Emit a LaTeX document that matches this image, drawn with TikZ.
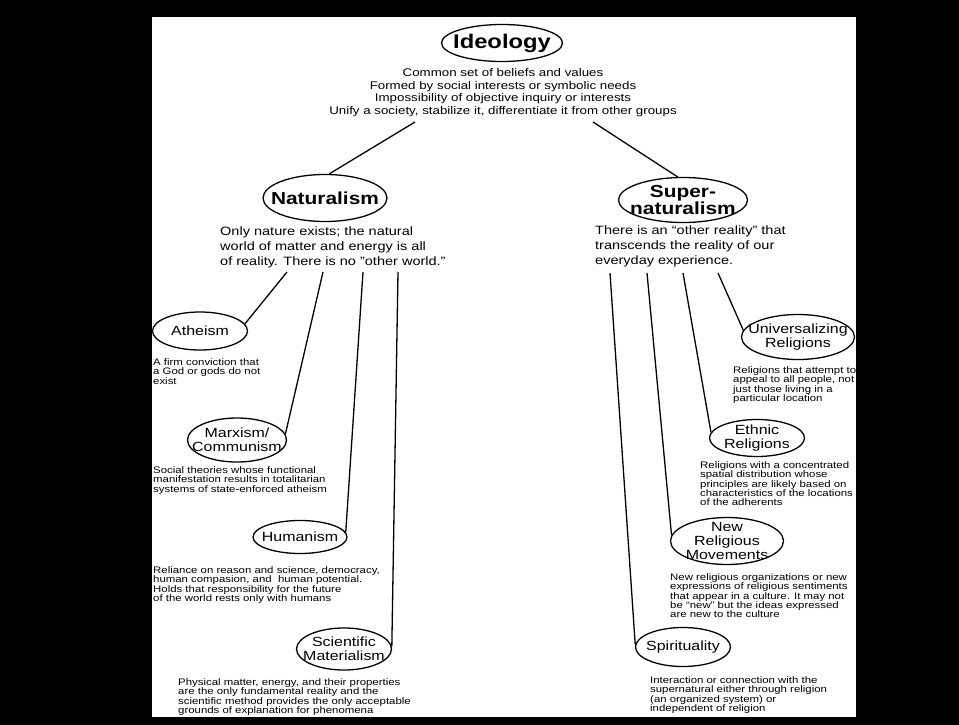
\documentclass[tikz,border=0pt]{standalone}
\usepackage{fontspec}
\setmainfont{Liberation Sans}[FakeStretch=1.2]
\usetikzlibrary{shapes.geometric}
\begin{document}
\begin{tikzpicture}[x=1pt,y=-1pt,
  oval/.style={draw,line width=1.3pt,ellipse,inner sep=0pt},
  link/.style={line width=1.3pt},
  body/.style={align=left,anchor=north west,inner sep=0pt,font=\fontsize{12.1}{15}\selectfont},
  desc/.style={align=left,anchor=north west,inner sep=0pt,font=\fontsize{9.5}{9.3}\selectfont},
  natl/.style={align=center,inner sep=0pt,font=\fontsize{17.4}{16.5}\selectfont\bfseries},
  subl/.style={align=center,inner sep=0pt,font=\fontsize{13.3}{13.8}\selectfont}]
\fill[black] (0,0) rectangle (959,725);
\fill[white] (152,17) rectangle (856,717);
\useasboundingbox (0,0) rectangle (959,725);

% Ideology
\node[oval,minimum width=121,minimum height=37,label={[inner sep=0pt,font=\fontsize{19.8}{20}\selectfont\bfseries]center:Ideology}] (ideo) at (502,43) {};
\node[align=center,inner sep=0pt,anchor=north,font=\fontsize{11.1}{12.8}\selectfont] (ideot) at (503,68)
 {Common set of beliefs and values\\Formed by social interests or symbolic needs\\Impossibility of objective inquiry or interests\\Unify a society, stabilize it, differentiate it from other groups};
\coordinate (il) at (415,122);
\coordinate (ir) at (593,122);

% Naturalism
\node[oval,minimum width=124,minimum height=47,label={[natl]center:Naturalism}] (nat) at (325,198) {};
\node[body] (natt) at (220,227) {Only nature exists; the natural\\world of matter and energy is all\\of reality. There is no "other world."};
\draw[link] (il) -- (nat.80);

% Supernaturalism
\node[oval,minimum width=129,minimum height=45,label={[natl]center:Super-\\naturalism}] (sup) at (683,200) {};
\node[body] (supt) at (595,226) {There is an ``other reality'' that\\transcends the reality of our\\everyday experience.};
\draw[link] (ir) -- (sup.103);

% Left branches
\coordinate (a0) at (287,272);
\coordinate (m0) at (323,272);
\coordinate (h0) at (363,272);
\coordinate (s0) at (398,272);

\node[oval,minimum width=95,minimum height=38,label={[subl]center:Atheism}] (ath) at (200,331) {};
\node[desc] at (153,358.5) {A firm conviction that\\a God or gods do not\\exist};
\draw[link] (a0) -- (ath.9);

\node[oval,minimum width=99,minimum height=44,label={[subl]center:Marxism/\\Communism}] (mar) at (237,440) {};
\node[desc] at (153,466.5) {Social theories whose functional\\manifestation results in totalitarian\\systems of state-enforced atheism};
\draw[link] (m0) -- (mar.7);

\node[oval,minimum width=94,minimum height=33,label={[subl]center:Humanism}] (hum) at (300,537) {};
\node[desc] at (153,566.5) {Reliance on reason and science, democracy,\\human compasion, and\ \ human potential.\\Holds that responsibility for the future\\of the world rests only with humans};
\draw[link] (h0) -- (hum.6);

\node[oval,minimum width=95,minimum height=42,label={[subl]center:Scientific\\Materialism}] (sci) at (344,649) {};
\node[desc] at (178,678.5) {Physical matter, energy, and their properties\\are the only fundamental reality and the\\scientific method provides the only acceptable\\grounds of explanation for phenomena};
\draw[link] (s0) -- (sci.3);

% Right branches
\coordinate (p0) at (610,273);
\coordinate (r0) at (647,273);
\coordinate (e0) at (683,273);
\coordinate (u0) at (718,273);

\node[oval,minimum width=113,minimum height=45,label={[subl]center:Universalizing\\Religions}] (uni) at (798,337) {};
\node[desc] at (733,366.5) {Religions that attempt to\\appeal to all people, not\\just those living in a\\particular location};
\draw[link] (u0) -- (uni.173);

\node[oval,minimum width=95,minimum height=37,label={[subl]center:Ethnic\\Religions}] (eth) at (757,438) {};
\node[desc] at (700,461.5) {Religions with a concentrated\\spatial distribution whose\\principles are likely based on\\characteristics of the locations\\of the adherents};
\draw[link] (e0) -- (eth.173);

\node[oval,minimum width=113,minimum height=47,label={[subl]center:New\\Religious\\Movements}] (nrm) at (727,541) {};
\node[desc] at (670,573.5) {New religious organizations or new\\expressions of religious sentiments\\that appear in a culture. It may not\\be ``new'' but the ideas expressed\\are new to the culture};
\draw[link] (r0) -- (nrm.174);

\node[oval,minimum width=95,minimum height=39,label={[subl]center:Spirituality}] (spi) at (683,647) {};
\node[desc] at (650,676.5) {Interaction or connection with the\\supernatural either through religion\\(an organized system) or\\independent of religion};
\draw[link] (p0) -- (spi.177);
\end{tikzpicture}
\end{document}
